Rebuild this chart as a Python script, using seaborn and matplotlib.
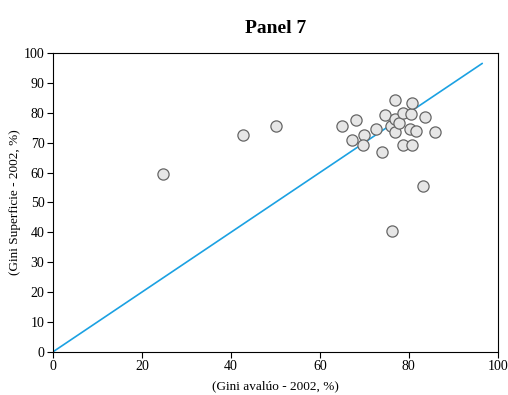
import pandas as pd
import seaborn as sns
import matplotlib.pyplot as plt

sns.set_style('white')
plt.rcParams['font.family'] = ['Liberation Serif', 'DejaVu Serif']
plt.rcParams['text.color'] = 'black'
plt.rcParams['axes.labelcolor'] = 'black'
plt.rcParams['xtick.color'] = 'black'
plt.rcParams['ytick.color'] = 'black'

# datos
gini_avaluo = [24.8, 42.8, 50.1, 64.9, 68.2, 67.3, 69.9, 69.8, 72.7, 73.9,
               74.6, 76.1, 76.9, 76.9, 77.0, 77.8, 78.7, 78.7, 80.2, 80.4,
               80.7, 80.8, 81.6, 83.7, 85.8, 83.1, 76.2]
gini_superficie = [59.5, 72.5, 75.7, 75.7, 77.6, 70.8, 72.5, 69.1, 74.6, 67.0,
                   79.3, 75.4, 84.3, 77.8, 73.7, 76.5, 79.8, 69.3, 74.4, 79.5,
                   69.2, 83.4, 74.0, 78.7, 73.5, 55.5, 40.5]
linea_x = [0, 96.5]
linea_y = [0, 96.5]

df = pd.DataFrame({'x': gini_avaluo, 'y': gini_superficie})
dl = pd.DataFrame({'x': linea_x, 'y': linea_y})

fig, ax = plt.subplots(figsize=(5.08, 3.95), dpi=100)
plt.subplots_adjust(left=0.104, right=0.980, bottom=0.109, top=0.866)

sns.lineplot(data=dl, x='x', y='y', ax=ax, color='#1ba1e2', linewidth=1.2)
sns.scatterplot(data=df, x='x', y='y', ax=ax, s=65, color='#e6e6e6',
                edgecolor='#666666', linewidth=0.9, zorder=3)

ax.set_xlim(0, 100)
ax.set_ylim(0, 100)
ax.set_xticks(range(0, 101, 20))
ax.set_yticks(range(0, 101, 10))
ax.tick_params(direction='out', length=4, width=0.8, labelsize=10,
               bottom=True, left=True, pad=2)
for s in ax.spines.values():
    s.set_color('black')
    s.set_linewidth(0.8)

ax.set_xlabel('(Gini avalúo - 2002, %)', fontsize=9.5, labelpad=5)
ax.set_ylabel('(Gini Superficie - 2002, %)', fontsize=9.5, labelpad=2)
ax.set_title('Panel 7', fontsize=14, fontweight='bold', pad=14, color='black')

plt.savefig('out.png', dpi=100)
